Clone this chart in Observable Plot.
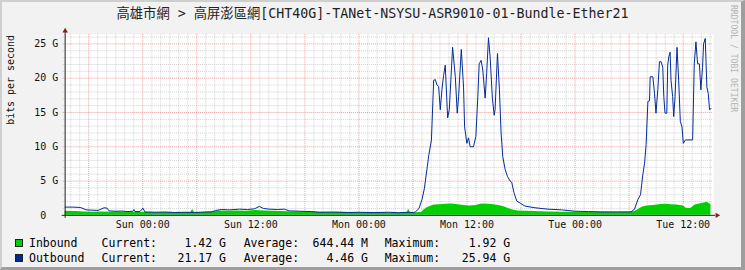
<!DOCTYPE html>
<html>
<head>
<meta charset="utf-8">
<script src="https://cdn.jsdelivr.net/npm/d3@7"></script>
<script src="https://cdn.jsdelivr.net/npm/@observablehq/plot@0.6"></script>
<style>
  html, body { margin: 0; padding: 0; background: #ffffff; }
  #wrap {
    position: relative; width: 745px; height: 270px; box-sizing: border-box;
    background: #f2f2f2; overflow: hidden;
    border-top: 2px solid #cfcfcf; border-left: 2px solid #cfcfcf;
    border-right: 4px solid #9e9e9e; border-bottom: 3px solid #9e9e9e;
    font-family: "DejaVu Sans Mono", "Noto Sans CJK TC", monospace;
  }
  #chart { position: absolute; left: -2px; top: -2px; }
  #title {
    position: absolute; left: -2px; top: 4px; width: 745px; text-align: center;
    font-size: 13.3px; line-height: 16px; color: #222; white-space: pre;
  }
  #mark {
    position: absolute; left: 727px; top: 3px; writing-mode: vertical-rl;
    font-size: 8.1px; color: #b4b4b4; white-space: pre;
  }
  .lg { position: absolute; font-size: 11.5px; line-height: 14px; color: #000; white-space: pre; }
  .sw { position: absolute; width: 6px; height: 6px; border: 1px solid #222; }
</style>
</head>
<body>
<div id="wrap">
  <div id="chart"></div>
  <div id="title"></div>
  <div id="mark">RRDTOOL / TOBI OETIKER</div>
  <div id="legend"></div>
</div>
<script>
// ---------- data ----------
const year = "2024-";
const chartTitle = "高雄市網 > 高屏澎區網[CHT40G]-TANet-NSYSU-ASR9010-01-Bundle-Ether21";
const yAxisLabel = "bits per second";
const rangeStart = "01-06 15:23";
const rangeEnd = "01-09 15:23";
const xTickTimes = ["01-07 00:00", "01-07 12:00", "01-08 00:00", "01-08 12:00", "01-09 00:00", "01-09 12:00"];
const yTickValues = [0, 5, 10, 15, 20, 25];
const yTickLabels = ["0\u00a0\u00a0", "5 G", "10 G", "15 G", "20 G", "25 G"];
const yTop = 26.4;

const seriesNames = ["Inbound", "Outbound"];
const seriesColors = ["#00CF00", "#002A97"];
const legendCurrent = ["1.42 G", "21.17 G"];
const legendAverage = ["644.44 M", "4.46 G"];
const legendMaximum = ["1.92 G", "25.94 G"];

const outTimes = [
  "01-06 15:23","01-06 16:09","01-06 17:03","01-06 17:22","01-06 17:42","01-06 18:22","01-06 19:02","01-06 19:22",
  "01-06 19:42","01-06 20:02","01-06 20:15","01-06 20:55","01-06 21:41","01-06 22:21","01-06 22:54","01-06 23:01",
  "01-06 23:08","01-06 23:41","01-07 00:01","01-07 00:14","01-07 01:20","01-07 02:27","01-07 03:33","01-07 04:39",
  "01-07 05:46","01-07 06:52","01-07 07:39","01-07 08:05","01-07 08:45","01-07 09:38","01-07 10:44","01-07 11:38",
  "01-07 12:24","01-07 12:57","01-07 13:24","01-07 14:04","01-07 14:57","01-07 15:43","01-07 16:16","01-07 17:23",
  "01-07 18:42","01-07 19:35","01-07 21:15","01-07 22:55","01-08 00:00","01-08 01:40","01-08 03:19","01-08 04:25",
  "01-08 05:32","01-08 06:04","01-08 06:16","01-08 06:40","01-08 07:00","01-08 07:16","01-08 07:33","01-08 07:45",
  "01-08 08:03","01-08 08:18","01-08 08:29","01-08 08:40","01-08 08:51","01-08 09:02","01-08 09:13","01-08 09:24",
  "01-08 09:35","01-08 09:51","01-08 10:02","01-08 10:24","01-08 10:42","01-08 10:55","01-08 11:04","01-08 11:22",
  "01-08 11:37","01-08 11:44","01-08 11:59","01-08 12:10","01-08 12:21","01-08 12:43","01-08 12:59","01-08 13:12",
  "01-08 13:21","01-08 13:34","01-08 13:45","01-08 14:01","01-08 14:11","01-08 14:23","01-08 14:34","01-08 14:49",
  "01-08 15:01","01-08 15:07","01-08 15:23","01-08 15:36","01-08 15:47","01-08 15:58","01-08 16:14","01-08 16:29",
  "01-08 16:47","01-08 16:58","01-08 17:13","01-08 17:31","01-08 17:53","01-08 18:26","01-08 19:33","01-08 21:00",
  "01-08 22:30","01-09 00:00","01-09 01:30","01-09 03:00","01-09 04:45","01-09 06:12","01-09 06:36","01-09 06:58",
  "01-09 07:16","01-09 07:31","01-09 07:43","01-09 07:53","01-09 08:05","01-09 08:16","01-09 08:20","01-09 08:38",
  "01-09 08:49","01-09 08:59","01-09 09:11","01-09 09:22","01-09 09:33","01-09 09:44","01-09 09:51","01-09 09:59",
  "01-09 10:11","01-09 10:17","01-09 10:24","01-09 10:33","01-09 10:39","01-09 10:50","01-09 10:57","01-09 11:06",
  "01-09 11:19","01-09 11:30","01-09 11:41","01-09 11:52","01-09 12:01","01-09 12:15","01-09 12:30","01-09 13:03",
  "01-09 13:14","01-09 13:25","01-09 13:36","01-09 13:48","01-09 13:58","01-09 14:09","01-09 14:16","01-09 14:27",
  "01-09 14:38","01-09 14:47","01-09 14:56","01-09 15:05"
];
const outValues = [
  1.2, 1.2, 1.15, 1.0, 0.8, 0.75, 0.72, 0.9,
  1.1, 1.05, 0.65, 0.6, 0.62, 0.55, 0.6, 0.85,
  0.55, 0.55, 1.05, 0.5, 0.45, 0.48, 0.42, 0.45,
  0.42, 0.48, 0.5, 0.7, 0.85, 0.8, 0.9, 0.85,
  0.95, 1.3, 1.0, 0.9, 0.85, 0.9, 0.65, 0.6,
  0.55, 0.45, 0.48, 0.42, 0.45, 0.4, 0.45, 0.38,
  0.45, 0.4, 0.5, 1.0, 2.3, 3.9, 6.7, 8.7,
  11.0, 19.7, 19.8, 19.0, 18.8, 15.4, 18.3, 20.4,
  21.9, 14.2, 15.4, 24.5, 20.2, 14.9, 17.3, 24.2,
  18.7, 12.9, 10.5, 11.3, 10.0, 10.0, 11.5, 17.3,
  22.1, 22.6, 21.2, 17.1, 20.7, 25.9, 23.1, 17.1,
  14.6, 15.4, 23.6, 18.3, 12.0, 8.6, 6.7, 5.7,
  5.0, 4.8, 3.3, 2.1, 1.8, 1.35, 1.1, 0.9,
  0.8, 0.6, 0.55, 0.5, 0.5, 0.5, 0.9, 2.3,
  3.0, 5.9, 7.6, 10.3, 16.6, 16.7, 20.2, 20.2,
  17.8, 14.9, 18.3, 22.4, 22.4, 21.6, 17.3, 14.9,
  14.9, 21.9, 23.1, 23.8, 19.7, 17.3, 14.4, 17.3,
  24.5, 19.7, 13.7, 12.9, 10.5, 11.0, 11.0, 11.0,
  22.1, 25.3, 22.1, 22.1, 18.3, 21.6, 25.0, 25.8,
  18.7, 17.8, 15.4, 15.6
];

const inTimes = [
  "01-06 15:23","01-06 16:30","01-06 17:30","01-06 18:30","01-06 19:30","01-06 20:30","01-06 21:30","01-06 22:30",
  "01-06 23:30","01-07 00:30","01-07 01:30","01-07 02:30","01-07 03:30","01-07 04:30","01-07 05:20","01-07 05:32",
  "01-07 05:45","01-07 06:30","01-07 07:30","01-07 08:30","01-07 09:30","01-07 10:30","01-07 11:30","01-07 12:30",
  "01-07 13:30","01-07 14:30","01-07 15:30","01-07 16:30","01-07 17:30","01-07 18:30","01-07 19:30","01-07 21:00",
  "01-07 22:30","01-08 00:00","01-08 01:30","01-08 03:00","01-08 04:30","01-08 05:20","01-08 05:32","01-08 05:44",
  "01-08 06:30","01-08 07:00","01-08 07:15","01-08 07:35","01-08 07:55","01-08 08:20","01-08 09:00","01-08 09:40",
  "01-08 10:20","01-08 11:00","01-08 11:40","01-08 12:20","01-08 13:00","01-08 13:40","01-08 14:20","01-08 15:00",
  "01-08 15:40","01-08 16:10","01-08 16:40","01-08 17:10","01-08 17:40","01-08 18:30","01-08 19:30","01-08 21:00",
  "01-08 22:30","01-09 00:00","01-09 01:30","01-09 03:00","01-09 04:30","01-09 06:00","01-09 06:40","01-09 07:05",
  "01-09 07:30","01-09 08:00","01-09 08:40","01-09 09:20","01-09 10:00","01-09 10:40","01-09 11:20","01-09 12:00",
  "01-09 12:20","01-09 12:50","01-09 13:20","01-09 13:50","01-09 14:20","01-09 14:40","01-09 14:55","01-09 15:05"
];
const inValues = [
  0.6, 0.55, 0.5, 0.45, 0.5, 0.45, 0.5, 0.42,
  0.45, 0.4, 0.38, 0.4, 0.36, 0.4, 0.42, 0.85,
  0.42, 0.4, 0.5, 0.62, 0.6, 0.65, 0.6, 0.7,
  0.62, 0.6, 0.55, 0.5, 0.48, 0.5, 0.45, 0.42,
  0.4, 0.38, 0.35, 0.34, 0.33, 0.35, 0.9, 0.35,
  0.38, 0.45, 0.8, 1.1, 1.3, 1.5, 1.55, 1.6,
  1.65, 1.55, 1.45, 1.35, 1.45, 1.65, 1.6, 1.55,
  1.4, 1.2, 0.95, 0.75, 0.65, 0.6, 0.55, 0.5,
  0.45, 0.45, 0.42, 0.44, 0.42, 0.45, 0.55, 0.9,
  1.2, 1.35, 1.45, 1.55, 1.6, 1.55, 1.5, 1.35,
  1.05, 1.0, 1.5, 1.65, 1.8, 1.9, 1.7, 1.55
];

// ---------- build ----------
const parse = d3.utcParse("%Y-%m-%d %H:%M");
const T = s => parse(year + s);
const start = T(rangeStart), end = T(rangeEnd);
const outbound = outTimes.map((t, i) => ({time: T(t), value: outValues[i]}));
const inbound = inTimes.map((t, i) => ({time: T(t), value: inValues[i]}));
const xTicks = xTickTimes.map(T);

const hours = d3.utcHour.range(start, end);
const minorHours = hours.filter(d => d.getUTCHours() % 6 !== 0);
const majorHours = hours.filter(d => d.getUTCHours() % 6 === 0);
const gLevels = d3.range(1, Math.floor(yTop) + 1);
const minorG = gLevels.filter(v => v % 5 !== 0);
const majorG = gLevels.filter(v => v % 5 === 0);

const minorStyle = {stroke: "rgb(143,143,143)", strokeOpacity: 0.4, strokeDasharray: "1,1"};
const majorStyle = {stroke: "rgb(222,79,79)", strokeOpacity: 0.55, strokeDasharray: "1,1"};
const arrowColor = "rgb(128,31,31)";
const axisColor = "#1f1f1f";

const chart = Plot.plot({
  width: 745, height: 270,
  marginTop: 34, marginBottom: 54, marginLeft: 65, marginRight: 28,
  x: {type: "utc", domain: [start, end], axis: null},
  y: {domain: [0, yTop], axis: null},
  style: {background: "transparent", fontFamily: "'DejaVu Sans Mono', monospace", fontSize: "10px", color: "#111", overflow: "visible"},
  marks: [
    Plot.frame({fill: "#ffffff", stroke: null}),
    Plot.ruleX(minorHours, {...minorStyle, insetBottom: -2}),
    Plot.ruleY(minorG, {...minorStyle, insetLeft: -2}),
    Plot.ruleX(majorHours, {...majorStyle, insetBottom: -2}),
    Plot.ruleY(majorG, {...majorStyle, insetLeft: -2}),
    Plot.areaY(inbound, {x: "time", y: "value", fill: seriesColors[0]}),
    Plot.line(outbound, {x: "time", y: "value", stroke: seriesColors[1], strokeWidth: 1}),
    Plot.ruleY([0], {stroke: axisColor, insetLeft: -3, insetRight: -2}),
    Plot.ruleX([start], {stroke: axisColor, insetBottom: -3, insetTop: -2}),
    Plot.dot([start], {x: d => d, y: () => yTop, symbol: "triangle2", r: 2.6, fill: arrowColor, stroke: null, dy: -3.5}),
    Plot.dot([end], {x: d => d, y: () => 0, symbol: "triangle2", r: 2.6, rotate: 90, fill: arrowColor, stroke: null, dx: 3.5}),
    Plot.axisX(xTicks, {tickSize: 0, tickPadding: 6, label: null, tickFormat: d3.utcFormat("%a %H:%M"), fill: "#111"}),
    Plot.axisY(yTickValues, {tickSize: 0, tickPadding: 7, label: null, tickFormat: d => yTickLabels[yTickValues.indexOf(d)], fill: "#111"}),
    Plot.text([yAxisLabel], {frameAnchor: "left", rotate: -90, dx: -55, fill: "#111"})
  ]
});
document.getElementById("chart").append(chart);
document.getElementById("title").textContent = chartTitle;

// ---------- legend ----------
const legend = document.getElementById("legend");
const rowTops = [234, 249];
function addText(txt, left, top, alignRight) {
  const s = document.createElement("div");
  s.className = "lg";
  s.textContent = txt;
  s.style.top = top + "px";
  if (alignRight) { s.style.right = (745 - 2 - alignRight) + "px"; s.style.textAlign = "right"; }
  else s.style.left = (left - 2) + "px";
  legend.append(s);
}
seriesNames.forEach((name, i) => {
  const top = rowTops[i];
  const sw = document.createElement("div");
  sw.className = "sw";
  sw.style.left = (15 - 2) + "px";
  sw.style.top = (top + 3) + "px";
  sw.style.background = seriesColors[i];
  legend.append(sw);
  addText(name, 29, top);
  addText("Current:", 101.6, top);
  addText(legendCurrent[i], 0, top, 228);
  addText("Average:", 243.7, top);
  addText(legendAverage[i], 0, top, 370);
  addText("Maximum:", 384.7, top);
  addText(legendMaximum[i], 0, top, 512.2);
});
</script>
</body>
</html>
